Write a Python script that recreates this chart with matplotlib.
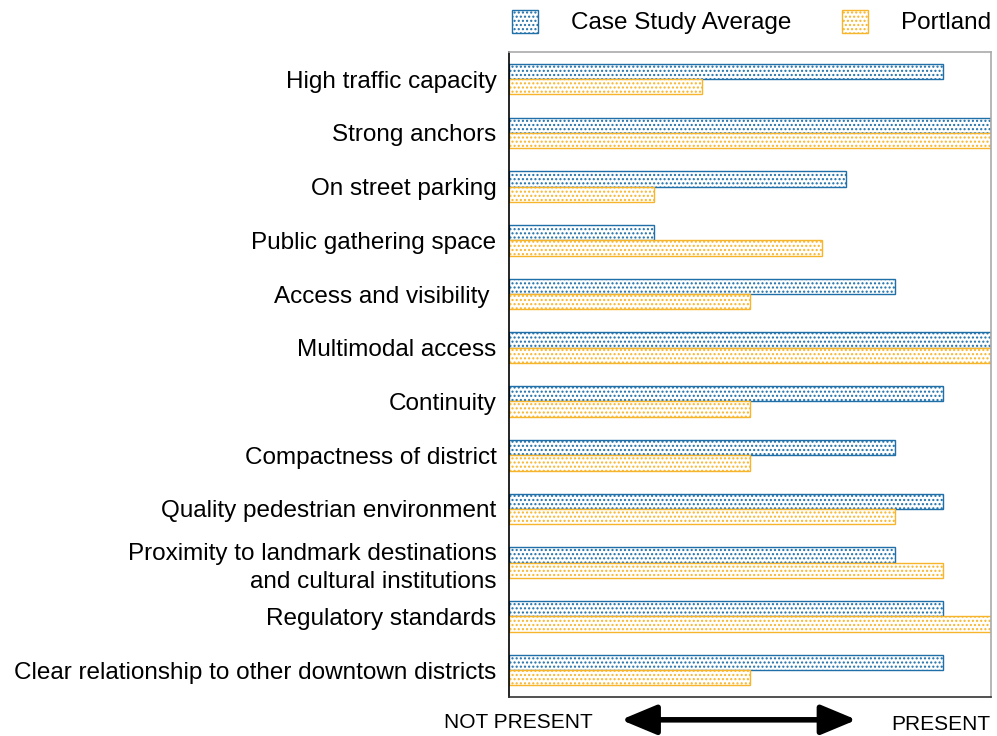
import numpy as np
import matplotlib.pyplot as plt
from matplotlib.patches import Patch, FancyArrowPatch

plt.rcParams["font.family"] = ["Liberation Sans", "DejaVu Sans"]
plt.rcParams["hatch.linewidth"] = 1.0

CATEGORIES = [
    "High traffic capacity",
    "Strong anchors",
    "On street parking",
    "Public gathering space",
    "Access and visibility ",
    "Multimodal access",
    "Continuity",
    "Compactness of district",
    "Quality pedestrian environment",
    "Proximity to landmark destinations\nand cultural institutions",
    "Regulatory standards",
    "Clear relationship to other downtown districts",
]
CASE_STUDY = [9, 10, 7, 3, 8, 10, 9, 8, 9, 8, 9, 9]
PORTLAND = [4, 10, 3, 6.5, 5, 10, 5, 5, 8, 9, 10, 5]

BLUE = "#1f6fa8"
ORANGE = "#f7b52c"

fig = plt.figure(figsize=(9.97, 7.36), dpi=100)
ax = fig.add_axes([0.5105, 0.053, 0.4835, 0.876])

y = np.arange(len(CATEGORIES))
h = 0.285
ax.barh(y - h / 2, CASE_STUDY, height=h, color="white", edgecolor=BLUE,
        hatch="....", linewidth=1.0)
ax.barh(y + h / 2, PORTLAND, height=h, color="white", edgecolor=ORANGE,
        hatch="....", linewidth=1.0)

ax.set_xlim(0, 10)
ax.set_ylim(len(CATEGORIES) - 0.5, -0.5)
ax.set_yticks(y)
ax.set_yticklabels(CATEGORIES, fontsize=17.5, linespacing=1.35)
ax.set_xticks([])
ax.tick_params(axis="y", length=0, pad=9)

for side in ("top", "right"):
    ax.spines[side].set_color("#aaaaaa")
    ax.spines[side].set_linewidth(1.2)
ax.spines["left"].set_color("black")
ax.spines["left"].set_linewidth(1.2)
ax.spines["bottom"].set_color("#333333")
ax.spines["bottom"].set_linewidth(1.2)

handles = [
    Patch(facecolor="white", edgecolor=BLUE, hatch="....", label="Case Study Average"),
    Patch(facecolor="white", edgecolor=ORANGE, hatch="....", label="Portland"),
]
fig.legend(handles=handles, loc="center left", bbox_to_anchor=(0.492, 0.97),
           ncol=2, frameon=False, fontsize=17.5, handlelength=1.07,
           handleheight=1.07, handletextpad=1.36, columnspacing=2.05)

fig.text(0.445, 0.019, "NOT PRESENT", fontsize=15, ha="left", va="center")
fig.text(0.993, 0.016, "PRESENT", fontsize=15, ha="right", va="center")
fig.patches.append(FancyArrowPatch(
    (0.62, 0.022), (0.862, 0.022), transform=fig.transFigure,
    arrowstyle="<|-|>,head_length=1.8,head_width=0.75", color="black",
    linewidth=4, mutation_scale=12))

fig.savefig("out.png", dpi=100)
